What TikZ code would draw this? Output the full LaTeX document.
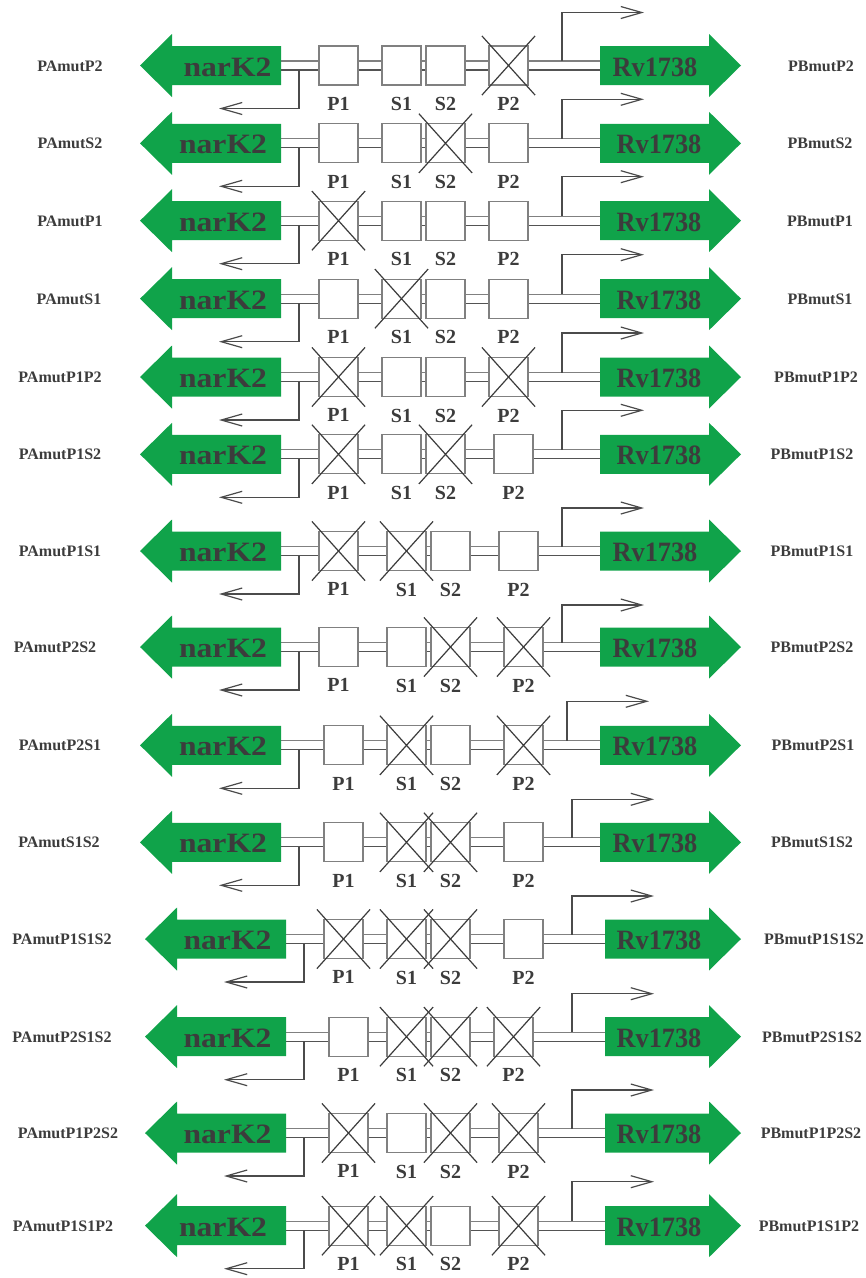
\documentclass[tikz,border=0pt]{standalone}
\usepackage{graphicx}
\usepackage{fontspec}
\setmainfont{Liberation Serif}
\usetikzlibrary{positioning,arrows.meta,shapes.misc}

\definecolor{genegreen}{RGB}{16,163,74}
\definecolor{inkgray}{RGB}{60,60,60}
\definecolor{boxgray}{RGB}{128,128,128}
\definecolor{promgray}{RGB}{75,75,75}

\tikzset{
  site/.style={draw=boxgray, fill=white, line width=1.1pt, minimum size=39pt, inner sep=0pt},
  sitelabel/.style={inner sep=0pt, font=\fontsize{20}{20}\selectfont\bfseries, text=inkgray},
  knockout/.style={cross out, draw=inkgray, line width=1.2pt, minimum width=52pt, minimum height=58pt, inner sep=0pt},
  mutname/.style={anchor=base, inner sep=0pt, font=\fontsize{16}{16}\selectfont\bfseries, text=inkgray},
  genename/.style={anchor=base, inner sep=0pt, font=\fontsize{28}{28}\selectfont\bfseries, text=inkgray},
  gene/.style={fill=genegreen},
  strandup/.style={draw=boxgray, line width=1.1pt},
  stranddown/.style={draw=promgray!85!boxgray, line width=1.1pt},
  promoter/.style={draw=promgray, line width=1.2pt, -{Straight Barb[length=21pt,width=12pt]}},
}

\begin{document}
\begin{tikzpicture}[x=1pt,y=-1pt]
  \useasboundingbox (0,0) rectangle (866,1278);
  \foreach \cy/\la/\ra/\lx/\rx/\sh/\rp/\rh/\pA/\sA/\sB/\pB/\xl/\nx/\vx [count=\i] in {
    65.5/PAmutP2/PBmutP2/70/821/0/562/53/319/382/426/489/{p2}/227.5/655,
    143.3/PAmutS2/PBmutS2/70/820/0/562/44/319/382/426/489/{s2}/223/659,
    220.7/PAmutP1/PBmutP1/70/820/0/562/44/319/382/426/489/{p1}/223/659,
    298.7/PAmutS1/PBmutS1/69/820/0/562/44/319/382/426/489/{s1}/223/659,
    377/PAmutP1P2/PBmutP1P2/60/816/0/562/44/319/382/426/489/{p1,p2}/223/659,
    454.3/PAmutP1S2/PBmutP1S2/60/812/0/562/44/319/382/426/494/{p1,s2}/223/659,
    551/PAmutP1S1/PBmutP1S1/60/812/0/562/43/319/387/431/499/{p1,s1}/223/655,
    647/PAmutP2S2/PBmutP2S2/55/812/0/562/42/319/387/431/504/{s2,p2}/223/655,
    745.3/PAmutP2S1/PBmutP2S1/60/813/0/567/44/324/387/431/504/{s1,p2}/223/655,
    842.3/PAmutS1S2/PBmutS1S2/59/812/0/572/43/324/387/431/504/{s1,s2}/223/655,
    939/PAmutP1S1S2/PBmutP1S1S2/62/814/5/572/43/324/387/431/504/{p1,s1,s2}/227.5/659,
    1036.7/PAmutP2S1S2/PBmutP2S1S2/62/812/5/572/43/329/387/431/494/{s1,s2,p2}/227.5/659,
    1133/PAmutP1P2S2/PBmutP1P2S2/68/811/5/572/43/329/387/431/499/{p1,s2,p2}/227.5/659,
    1225.7/PAmutP1S1P2/PBmutP1S1P2/63/809/5/572/44/329/387/431/499/{p1,s1,p2}/223/659}{
    \coordinate (nk-\i) at (281+\sh,\cy);
    \coordinate (rv-\i) at (600+\sh,\cy);
    \draw[strandup] ([yshift=4.5pt]nk-\i) -- ([yshift=4.5pt]rv-\i);
    \draw[stranddown] ([yshift=-4.5pt]nk-\i) -- ([yshift=-4.5pt]rv-\i);
    % promoters
    \coordinate (lp-\i) at (299+\sh,\cy+4.5);
    \coordinate (lt-\i) at (219+\sh,\cy+43);
    \draw[promoter] (lp-\i) |- (lt-\i);
    \coordinate (rp-\i) at (\rp,\cy-4.5);
    \coordinate (rt-\i) at (\rp+82,\cy-\rh);
    \draw[promoter] (rp-\i) |- (rt-\i);
    % sites
    \node[site] (p1-\i) at (\pA+19.5,\cy) {};
    \node[site] (s1-\i) at (\sA+19.5,\cy) {};
    \node[site] (s2-\i) at (\sB+19.5,\cy) {};
    \node[site] (p2-\i) at (\pB+19.5,\cy) {};
    \node[sitelabel, below=11.5pt of p1-\i] {P1};
    \node[sitelabel, below=11.5pt of s1-\i] {S1};
    \node[sitelabel, below=11.5pt of s2-\i] {S2};
    \node[sitelabel, below=11.5pt of p2-\i] {P2};
    \foreach \k in \xl {\node[knockout] at (\k-\i) {};}
    % genes
    \fill[gene] (140+\sh,\cy) -- (172+\sh,\cy-31.5) -- (172+\sh,\cy-19.5) -- (281+\sh,\cy-19.5)
      -- (281+\sh,\cy+19.5) -- (172+\sh,\cy+19.5) -- (172+\sh,\cy+31.5) -- cycle;
    \fill[gene] (600+\sh,\cy-19.5) -- (709,\cy-19.5) -- (709,\cy-31.5) -- (741,\cy)
      -- (709,\cy+31.5) -- (709,\cy+19.5) -- (600+\sh,\cy+19.5) -- cycle;
    \node[genename] (nt-\i) at (\nx,\cy+10.5) {\scalebox{1.13}[1]{narK2}};
    \node[genename] (vt-\i) at (\vx,\cy+10.5) {\scalebox{0.94}[1]{Rv1738}};
    \node[mutname] (ma-\i) at (\lx,\cy+5.5) {\la};
    \node[mutname] (mb-\i) at (\rx,\cy+5.5) {\ra};
  }
\end{tikzpicture}
\end{document}
